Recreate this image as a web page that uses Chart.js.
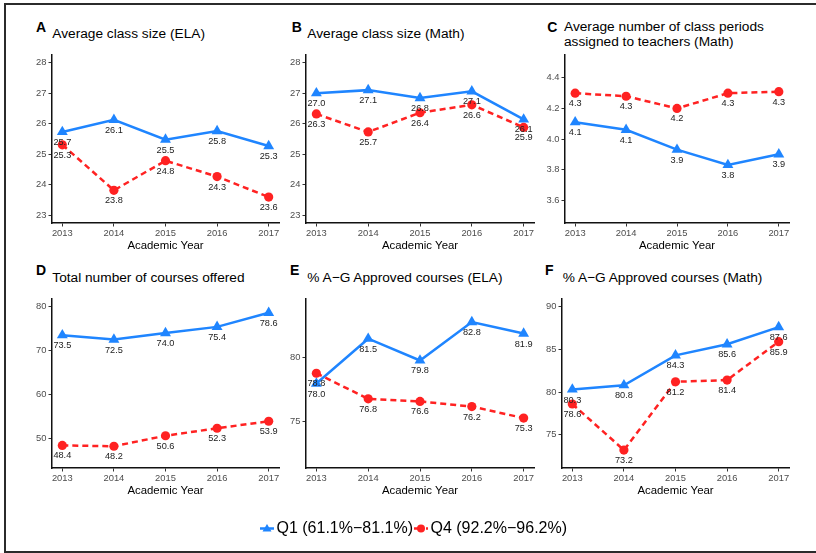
<!DOCTYPE html>
<html>
<head>
<meta charset="utf-8">
<script src="https://cdn.jsdelivr.net/npm/chart.js@4/dist/chart.umd.min.js"></script>
<style>
  html, body { margin: 0; padding: 0; background: #fff; }
  body { width: 816px; height: 553px; position: relative; overflow: hidden;
         font-family: "Liberation Sans", Arial, Helvetica, sans-serif; }
  .frame { position: absolute; left: 4px; top: 3px; width: 900px; height: 546px;
           border: 2px solid #2b2b2b; border-right: none; }
  canvas { position: absolute; }
  .tag { position: absolute; font-size: 14px; font-weight: bold; line-height: 14px; color: #000; white-space: nowrap; }
  .ttl { position: absolute; font-size: 13.7px; line-height: 13.7px; color: #000; white-space: nowrap; }
  .ttl2 { line-height: 15px; }
  .leg { position: absolute; font-size: 16px; line-height: 16px; color: #000; white-space: nowrap; }
  .key { position: absolute; }
</style>
</head>
<body>
<div class="frame"></div>

<div class="tag" style="left:36px;top:19.9px">A</div>
<div class="ttl" style="left:52.3px;top:26.7px">Average class size (ELA)</div>
<div class="tag" style="left:291.7px;top:19.9px">B</div>
<div class="ttl" style="left:307.3px;top:26.7px">Average class size (Math)</div>
<div class="tag" style="left:547.3px;top:19.9px">C</div>
<div class="ttl ttl2" style="left:564px;top:18.5px">Average number of class periods<br>assigned to teachers (Math)</div>

<div class="tag" style="left:36px;top:263.2px">D</div>
<div class="ttl" style="left:52.3px;top:270.7px">Total number of courses offered</div>
<div class="tag" style="left:290px;top:263.2px">E</div>
<div class="ttl" style="left:307.3px;top:270.7px">% A−G Approved courses (ELA)</div>
<div class="tag" style="left:545px;top:263.2px">F</div>
<div class="ttl" style="left:562.7px;top:270.7px">% A−G Approved courses (Math)</div>

<canvas id="cA"></canvas>
<canvas id="cB"></canvas>
<canvas id="cC"></canvas>
<canvas id="cD"></canvas>
<canvas id="cE"></canvas>
<canvas id="cF"></canvas>

<svg class="key" style="left:259px;top:522px" width="16" height="12" viewBox="0 0 16 12">
  <line x1="1" y1="6.5" x2="15" y2="6.5" stroke="#1f85ff" stroke-width="2.5"/>
  <polygon points="8,2 12.5,9.5 3.5,9.5" fill="#1f85ff"/>
</svg>
<div class="leg" id="legQ1" style="left:276.5px;top:520.2px"></div>
<svg class="key" style="left:413px;top:522px" width="16" height="12" viewBox="0 0 16 12">
  <line x1="1" y1="6.5" x2="15" y2="6.5" stroke="#ff2222" stroke-width="2.5" stroke-dasharray="4 2"/>
  <circle cx="8" cy="6.5" r="4" fill="#ff2222"/>
</svg>
<div class="leg" id="legQ4" style="left:430.5px;top:520.2px"></div>

<script>
// ---- data ----
const years = [2013, 2014, 2015, 2016, 2017];
const seriesNames = ['Q1 (61.1%−81.1%)', 'Q4 (92.2%−96.2%)'];

const elaSizeQ1 = [25.73, 26.13, 25.48, 25.76, 25.27];
const elaSizeQ4 = [25.31, 23.82, 24.79, 24.27, 23.60];
const classSizeTicks = [23, 24, 25, 26, 27, 28];

const mathSizeQ1 = [27.00, 27.10, 26.84, 27.06, 26.14];
const mathSizeQ4 = [26.32, 25.73, 26.36, 26.62, 25.88];

const periodsQ1 = [4.11, 4.06, 3.93, 3.83, 3.90];
const periodsQ4 = [4.30, 4.28, 4.20, 4.30, 4.31];
const periodsTicks = [3.6, 3.8, 4.0, 4.2, 4.4];

const coursesQ1 = [73.5, 72.5, 74.0, 75.4, 78.6];
const coursesQ4 = [48.4, 48.2, 50.6, 52.3, 53.9];
const coursesTicks = [50, 60, 70, 80];

const agElaQ1 = [78.0, 81.5, 79.8, 82.8, 81.9];
const agElaQ4 = [78.8, 76.8, 76.6, 76.2, 75.3];
const agElaTicks = [75, 80];

const agMathQ1 = [80.3, 80.8, 84.3, 85.6, 87.6];
const agMathQ4 = [78.6, 73.2, 81.2, 81.4, 85.9];
const agMathTicks = [75, 80, 85, 90];

// ---- styling ----
const FONT = '"Liberation Sans", Arial, Helvetica, sans-serif';
const BLUE = '#1f85ff';
const RED = '#ff2222';
const YW = 34, TP = 10, RP = 24, XH = 34;

Chart.defaults.font.family = FONT;

document.getElementById('legQ1').textContent = seriesNames[0];
document.getElementById('legQ4').textContent = seriesNames[1];

// values printed under every point
const valueLabels = {
  id: 'valueLabels',
  afterDatasetsDraw(chart) {
    const ctx = chart.ctx;
    ctx.save();
    ctx.font = '9.2px ' + FONT;
    ctx.fillStyle = '#222';
    ctx.textAlign = 'center';
    ctx.textBaseline = 'middle';
    chart.data.datasets.forEach((ds, di) => {
      chart.getDatasetMeta(di).data.forEach((pt, i) => {
        ctx.fillText(ds.data[i].y.toFixed(1), pt.x, pt.y + 10.5);
      });
    });
    ctx.restore();
  }
};

function makePanel(id, box, q1, q4, yMin, yMax, yTicks, yDec) {
  const plotW = box.right - box.axisX;
  const plotH = box.bottom - box.top;
  const cv = document.getElementById(id);
  const w = YW + plotW + RP, h = TP + plotH + XH;
  cv.width = w; cv.height = h;
  cv.style.width = w + 'px'; cv.style.height = h + 'px';
  cv.style.left = (box.axisX - YW) + 'px';
  cv.style.top = (box.top - TP) + 'px';

  const pts = arr => years.map((x, i) => ({ x: x, y: arr[i] }));

  new Chart(cv.getContext('2d'), {
    type: 'line',
    data: {
      datasets: [
        { label: seriesNames[0], data: pts(q1), order: 1,
          borderColor: BLUE, backgroundColor: BLUE, borderWidth: 2.5,
          pointStyle: 'triangle', pointRadius: 6.3, pointBorderWidth: 0,
          pointBackgroundColor: BLUE, tension: 0 },
        { label: seriesNames[1], data: pts(q4), order: 0,
          borderColor: RED, backgroundColor: RED, borderWidth: 2.5, borderDash: [6, 4],
          pointStyle: 'circle', pointRadius: 4.6, pointBorderWidth: 0,
          pointBackgroundColor: RED, tension: 0 }
      ]
    },
    options: {
      animation: false, responsive: false, devicePixelRatio: 1,
      layout: { padding: { top: TP, right: RP, left: 0, bottom: 0 } },
      plugins: { legend: { display: false }, tooltip: { enabled: false } },
      scales: {
        x: {
          type: 'linear', min: 2012.8, max: 2017.2,
          afterBuildTicks: s => { s.ticks = years.map(v => ({ value: v })); },
          afterFit: s => { s.height = XH; },
          ticks: { callback: v => String(v), color: '#4d4d4d',
                   font: { size: 9.4 }, padding: 1, maxRotation: 0, autoSkip: false },
          grid: { drawOnChartArea: false, drawTicks: true, tickLength: 3.5, color: '#333', lineWidth: 1 },
          border: { display: true, color: '#111', width: 1.5 },
          title: { display: true, text: 'Academic Year', color: '#000',
                   font: { size: 11.4 }, padding: { top: 0, bottom: 4 } }
        },
        y: {
          type: 'linear', min: yMin, max: yMax,
          afterBuildTicks: s => { s.ticks = yTicks.map(v => ({ value: v })); },
          afterFit: s => { s.width = YW; },
          ticks: { callback: v => Number(v).toFixed(yDec), color: '#4d4d4d',
                   font: { size: 9.4 }, padding: 2 },
          grid: { drawOnChartArea: false, drawTicks: true, tickLength: 3.5, color: '#333', lineWidth: 1 },
          border: { display: true, color: '#111', width: 1.5 }
        }
      }
    },
    plugins: [valueLabels]
  });
}

makePanel('cA', { axisX: 52, right: 279, top: 55, bottom: 223 }, elaSizeQ1, elaSizeQ4, 22.75, 28.25, classSizeTicks, 0);
makePanel('cB', { axisX: 306, right: 534, top: 55, bottom: 223 }, mathSizeQ1, mathSizeQ4, 22.75, 28.25, classSizeTicks, 0);
makePanel('cC', { axisX: 565, right: 789, top: 55, bottom: 223 }, periodsQ1, periodsQ4, 3.45, 4.55, periodsTicks, 1);
makePanel('cD', { axisX: 52, right: 279, top: 299, bottom: 468 }, coursesQ1, coursesQ4, 43.25, 81.75, coursesTicks, 0);
makePanel('cE', { axisX: 306, right: 534, top: 299, bottom: 468 }, agElaQ1, agElaQ4, 71.4, 84.6, agElaTicks, 0);
makePanel('cF', { axisX: 562, right: 789, top: 299, bottom: 468 }, agMathQ1, agMathQ4, 71.1, 90.9, agMathTicks, 0);
</script>
</body>
</html>
